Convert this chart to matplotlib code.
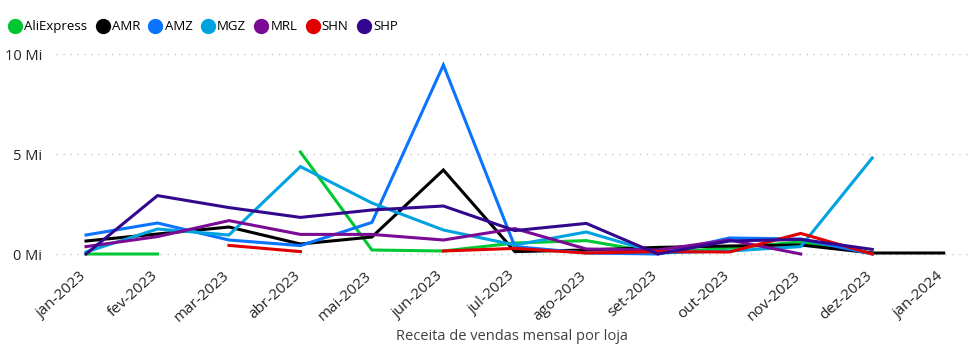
import numpy as np
import matplotlib
matplotlib.use("Agg")
import matplotlib.pyplot as plt
import matplotlib.transforms as mtransforms
from matplotlib.lines import Line2D

nan = np.nan

months = ['jan-2023', 'fev-2023', 'mar-2023', 'abr-2023', 'mai-2023', 'jun-2023',
          'jul-2023', 'ago-2023', 'set-2023', 'out-2023', 'nov-2023', 'dez-2023',
          'jan-2024']

# receita mensal em milhões
aliexpress = [0.0, 0.0, nan, 5.1, 0.2, 0.15, 0.55, 0.67, 0.05, 0.3, 0.6, 0.05, nan]
amr = [0.65, 1.0, 1.35, 0.5, 0.85, 4.2, 0.12, 0.2, 0.33, 0.4, 0.45, 0.05, 0.05]
amz = [0.95, 1.55, 0.7, 0.42, 1.58, 9.45, 0.37, 0.05, 0.0, 0.8, 0.75, 0.0, nan]
mgz = [0.1, 1.25, 0.95, 4.37, 2.55, 1.2, 0.45, 1.1, 0.05, 0.15, 0.37, 4.8, nan]
mrl = [0.37, 0.87, 1.67, 0.98, 0.98, 0.7, 1.27, 0.25, 0.2, 0.7, 0.0, nan, nan]
shn = [nan, nan, 0.43, 0.12, nan, 0.15, 0.28, 0.05, 0.12, 0.1, 1.03, 0.0, nan]
shp = [0.0, 2.92, 2.32, 1.83, 2.2, 2.4, 1.17, 1.53, 0.0, 0.65, 0.73, 0.23, nan]

stores = ['AliExpress', 'AMR', 'AMZ', 'MGZ', 'MRL', 'SHN', 'SHP']
series = [aliexpress, amr, amz, mgz, mrl, shn, shp]
colors = ['#00c832', '#000000', '#0a74ff', '#00a2e0', '#7b0a95', '#e00000', '#33088f']

plt.rcParams['font.family'] = ['Open Sans', 'DejaVu Sans']

fig = plt.figure(figsize=(9.77, 3.5), dpi=100)
ax = fig.add_axes([56 / 977, 90 / 350, 912 / 977, 220 / 350])

x = np.arange(len(months))
for name, vals, c in zip(stores, series, colors):
    ax.plot(x, np.array(vals, dtype=float), color=c, lw=2.2, solid_joinstyle='miter')

ax.set_xlim(-0.42, 12.34)
ax.set_ylim(-0.3, 10.7)
ax.set_yticks([0, 5, 10])
ax.set_yticklabels(['0 Mi', '5 Mi', '10 Mi'], fontsize=10.5, color='#252423')
ax.set_xticks(x)
ax.set_xticklabels(months, rotation=42, ha='right', rotation_mode='anchor',
                   fontsize=11, color='#252423')
ax.tick_params(length=0, pad=6)
ax.tick_params(axis='y', pad=10)
shift = mtransforms.ScaledTranslation(-7 / 100, 0, fig.dpi_scale_trans)
for lbl in ax.get_xticklabels():
    lbl.set_transform(lbl.get_transform() + shift)
ax.grid(axis='y', linestyle=(0, (1, 4)), color='#c8c8c8', lw=1)
ax.set_axisbelow(True)
for s in ax.spines.values():
    s.set_visible(False)

handles = [Line2D([], [], marker='o', linestyle='', markersize=10, color=c) for c in colors]
fig.legend(handles, stores, loc='upper left', bbox_to_anchor=(0.0, 0.965), ncol=7,
           frameon=False, handletextpad=0.15, columnspacing=0.6, fontsize=9.5,
           borderaxespad=0.2, handlelength=1.1)

fig.text(512 / 977, 14 / 350, 'Receita de vendas mensal por loja', ha='center', va='center',
         fontsize=10.5, color='#404040')

fig.savefig('out.png', dpi=100)
